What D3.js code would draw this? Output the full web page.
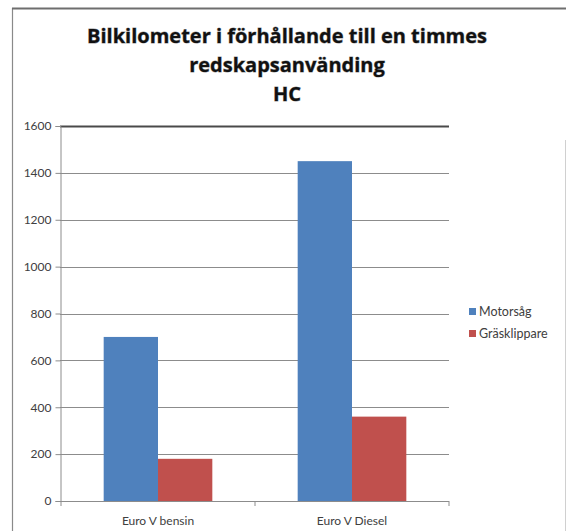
<!DOCTYPE html>
<html>
<head>
<meta charset="utf-8">
<script src="https://cdn.jsdelivr.net/npm/d3@7"></script>
<style>
  body { margin: 0; background: #fff; }
  text { font-family: Lato, "Open Sans", sans-serif; }
</style>
</head>
<body>
<script>
// data
const categories = ["Euro V bensin", "Euro V Diesel"];
const seriesNames = ["Motorsåg", "Gräsklippare"];
const motorsag = [700, 1450];
const grasklippare = [180, 360];
const yTicks = [0, 200, 400, 600, 800, 1000, 1200, 1400, 1600];
const titleLines = ["Bilkilometer i förhållande till en timmes", "redskapsanvänding", "HC"];
const colors = ["#4F81BD", "#C0504D"];

const W = 566, H = 531;
const svg = d3.select("body").append("svg")
    .attr("width", W)
    .attr("height", H);

// frame of the chart area (cropped)
svg.append("path")
    .attr("d", "M12.5," + H + "V8.5H566")
    .attr("fill", "none")
    .attr("stroke", "#8a8a8a")
    .attr("stroke-width", 1.2);
svg.append("line")
    .attr("x1", 12).attr("x2", 566)
    .attr("y1", 8.5).attr("y2", 8.5)
    .attr("stroke", "#6e6e6e")
    .attr("stroke-width", 2);
svg.append("line")
    .attr("x1", 565.5).attr("x2", 565.5)
    .attr("y1", 140).attr("y2", H)
    .attr("stroke", "#d0d0d0");

// title
svg.append("g").selectAll("text")
    .data(titleLines)
    .enter().append("text")
    .attr("x", 287)
    .attr("y", (d, i) => 43 + i * 29)
    .attr("text-anchor", "middle")
    .attr("font-size", 20)
    .attr("font-weight", "bold")
    .attr("fill", "#111")
    .attr("stroke", "#9a9a9a")
    .attr("stroke-width", 0.8)
    .attr("paint-order", "stroke")
    .style("font-family", "'Open Sans', sans-serif")
    .text(d => d);

// scales
var x0 = d3.scaleBand().domain(categories).range([61, 449]).paddingInner(0.44).paddingOuter(0.22);
var x1 = d3.scaleBand().domain(seriesNames).range([0, x0.bandwidth()]);
var y = d3.scaleLinear().domain([0, 1600]).range([501, 126]);

// gridlines
svg.append("g").selectAll("line")
    .data(yTicks.filter(t => t > 0))
    .enter().append("line")
    .attr("x1", 60).attr("x2", 449)
    .attr("y1", d => Math.round(y(d)) + 0.5)
    .attr("y2", d => Math.round(y(d)) + 0.5)
    .attr("stroke", d => d === 1600 ? "#4a4a4a" : "#8c8c8c")
    .attr("stroke-width", d => d === 1600 ? 2 : 1);

// bars
const rows = categories.map((c, i) => ({cat: c, vals: [motorsag[i], grasklippare[i]]}));
svg.append("g").selectAll("g")
    .data(rows)
    .enter().append("g")
    .attr("transform", d => "translate(" + x0(d.cat) + ",0)")
    .selectAll("rect")
    .data(d => d.vals.map((v, j) => ({name: seriesNames[j], v: v, j: j})))
    .enter().append("rect")
    .attr("x", d => x1(d.name))
    .attr("width", x1.bandwidth())
    .attr("y", d => y(d.v))
    .attr("height", d => y(0) - y(d.v))
    .attr("fill", d => colors[d.j]);

// y axis
var yAxis = d3.axisLeft(y).tickValues(yTicks).tickFormat(d3.format("d")).tickSize(5).tickPadding(4);
var gy = svg.append("g")
    .attr("transform", "translate(60.5,0)")
    .call(yAxis);
gy.select(".domain").attr("stroke", "#8c8c8c");
gy.selectAll(".tick line").attr("stroke", "#8c8c8c");
gy.selectAll(".tick text")
    .attr("font-size", 12)
    .attr("fill", "#404040")
    .style("font-family", "Lato, sans-serif");

// x axis with boundary ticks
svg.append("line")
    .attr("x1", 56).attr("x2", 449)
    .attr("y1", 501.5).attr("y2", 501.5)
    .attr("stroke", "#8c8c8c");
const bounds = [x0.range()[0], (x0.range()[0] + x0.range()[1]) / 2, x0.range()[1]];
svg.append("g").selectAll("line")
    .data(bounds)
    .enter().append("line")
    .attr("x1", d => d).attr("x2", d => d)
    .attr("y1", 501).attr("y2", 506)
    .attr("stroke", "#8c8c8c");
svg.append("g").selectAll("text")
    .data(categories)
    .enter().append("text")
    .attr("x", d => x0(d) + x0.bandwidth() / 2)
    .attr("y", 525)
    .attr("text-anchor", "middle")
    .attr("font-size", 12)
    .attr("fill", "#404040")
    .text(d => d);

// legend
var legend = svg.append("g").selectAll("g")
    .data(seriesNames)
    .enter().append("g")
    .attr("transform", (d, i) => "translate(469," + (308 + i * 22) + ")");
legend.append("rect")
    .attr("width", 7).attr("height", 7)
    .attr("fill", (d, i) => colors[i]);
legend.append("text")
    .attr("x", 10)
    .attr("y", 7.5)
    .attr("font-size", 12.5)
    .attr("fill", "#404040")
    .text(d => d);
</script>
</body>
</html>
